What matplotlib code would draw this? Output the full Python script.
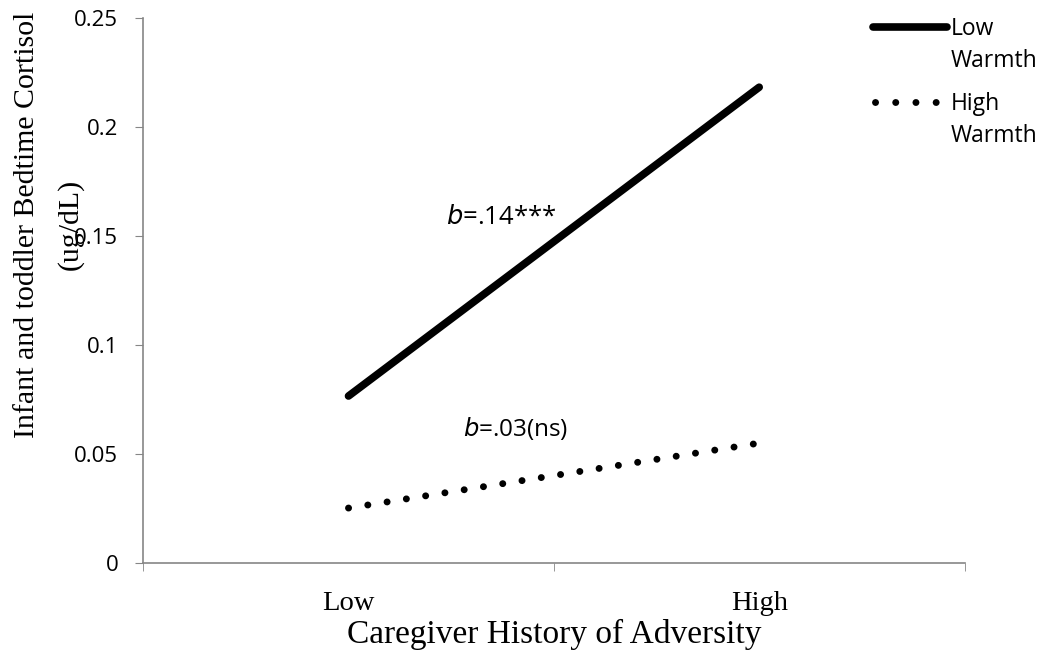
import matplotlib.pyplot as plt
from matplotlib.lines import Line2D

categories = ["Low", "High"]
low_warmth = [0.0766, 0.2183]
high_warmth = [0.0252, 0.055]
yticks = [0, 0.05, 0.1, 0.15, 0.2, 0.25]
ytick_labels = ["0", "0.05", "0.1", "0.15", "0.2", "0.25"]
legend_labels = ["Low\nWarmth", "High\nWarmth"]

serif = "Liberation Serif"
sans = "Open Sans"
grey = "#868686"

fig = plt.figure(figsize=(10.45, 6.71), dpi=100)
ax = fig.add_axes([0.137, 0.161, 0.786, 0.812])

x = list(range(len(categories)))
ax.plot(x, low_warmth, color="black", lw=5.5, solid_capstyle="round")
ax.plot(x, high_warmth, color="black", lw=5, linestyle=(0, (0.01, 2.8)),
        dash_capstyle="round")

ax.set_xlim(-0.5, 1.5)
ax.set_ylim(0, 0.25)

ax.set_yticks(yticks)
ax.set_yticklabels(ytick_labels, fontfamily=sans, fontsize=16)
ax.set_xticks(x)
ax.set_xticklabels(categories, fontfamily=serif, fontsize=20.5)
ax.tick_params(axis="x", which="major", length=0, pad=20)
ax.set_xticks([-0.5, 0.5, 1.5], minor=True)
ax.tick_params(axis="x", which="minor", length=6, color=grey, direction="out")
ax.tick_params(axis="y", length=6, color=grey, direction="out", pad=12)

for side in ["top", "right"]:
    ax.spines[side].set_visible(False)
for side in ["left", "bottom"]:
    ax.spines[side].set_color(grey)
    ax.spines[side].set_linewidth(1.2)

ax.set_xlabel("Caregiver History of Adversity", fontfamily=serif, fontsize=24, labelpad=2)
fig.text(0.026, 0.665, "Infant and toddler Bedtime Cortisol", rotation=90,
         fontfamily=serif, fontsize=21.5, ha="center", va="center")
fig.text(0.067, 0.665, "(ug/dL)", rotation=90,
         fontfamily=serif, fontsize=21.5, ha="center", va="center")

ax.text(0.373, 0.1587, r"$\it{b}$" + "=.14***", fontfamily=sans, fontsize=18.5,
        ha="center", va="center")
ax.text(0.408, 0.0619, r"$\it{b}$" + "=.03(ns)", fontfamily=sans, fontsize=17.5,
        ha="center", va="center")

# legend drawn by hand: sample line next to first text line, label on two lines
W, H = 1045, 671
styles = [dict(lw=5.5, solid_capstyle="round"),
          dict(lw=5, linestyle=(0, (0.01, 2.9)), dash_capstyle="round")]
ends = [(873, 947), (875, 937)]
tops = [27, 102]
for label, style, (x0, x1), yc in zip(legend_labels, styles, ends, tops):
    fig.add_artist(Line2D([x0 / W, x1 / W], [1 - yc / H, 1 - yc / H],
                          color="black", transform=fig.transFigure, **style))
    fig.text(951 / W, 1 - (yc - 10) / H, label, fontfamily=sans, fontsize=16.5,
             ha="left", va="top", linespacing=1.45)

fig.savefig("out.png", dpi=100)
